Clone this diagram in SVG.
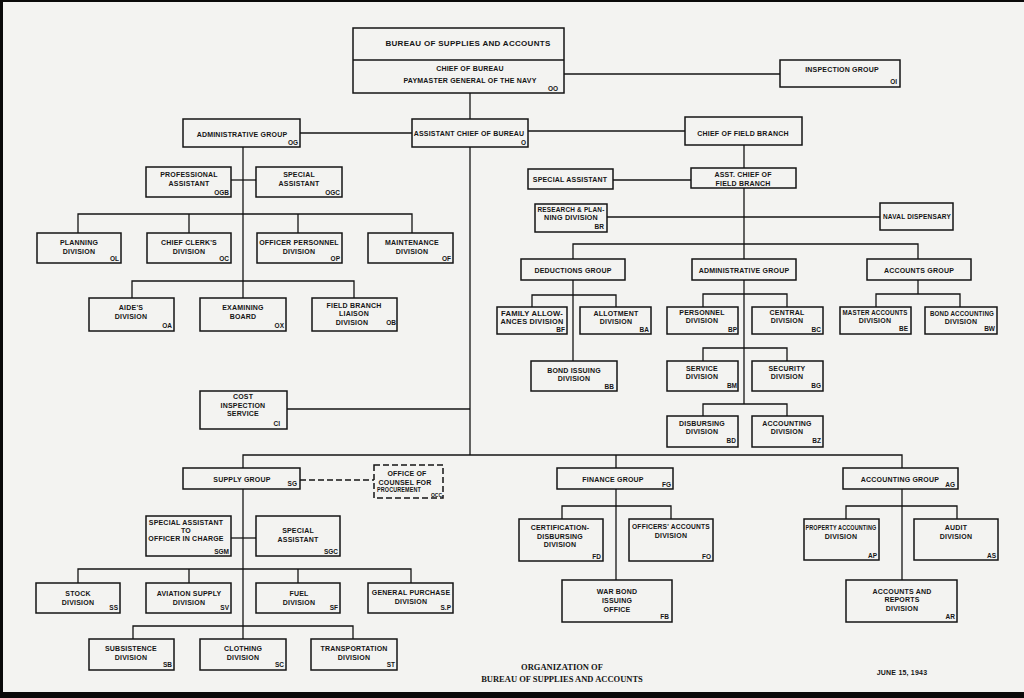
<svg xmlns="http://www.w3.org/2000/svg" width="1024" height="698" viewBox="0 0 1024 698">
<style>
.b{fill:none;stroke:#151515;stroke-width:1.5}
.l{fill:none;stroke:#151515;stroke-width:1.3}
.d{fill:none;stroke:#151515;stroke-width:1.5;stroke-dasharray:6 3}
text{font-family:"Liberation Sans",Arial,sans-serif;font-weight:bold;fill:#151515}
.t{font-size:7px;text-anchor:middle;letter-spacing:0.2px}
.c{font-size:6.5px;text-anchor:end}
.cs{font-size:5px;text-anchor:end}
.h{font-size:8px;text-anchor:middle;letter-spacing:0.3px}
.f{font-family:"Liberation Serif","Times New Roman",serif;font-size:8.5px;text-anchor:middle}
</style>
<rect x="0" y="0" width="1024" height="698" fill="#0a0a0a"/>
<rect x="3" y="2" width="1021" height="690" fill="#f3f3f1"/>

<g id="connectors">
<path class="l" d="M564 74H780"/>
<path class="l" d="M470 93V119"/>
<path class="l" d="M470 147V455"/>
<path class="l" d="M300 133H412"/>
<path class="l" d="M528 131H685"/>
<path class="l" d="M243 147V298"/>
<path class="l" d="M231 180H256"/>
<path class="l" d="M78 233V214H412V233M189 214V233M298 214V233"/>
<path class="l" d="M132 298V281H354V298"/>
<path class="l" d="M744 145V168M744 188V259"/>
<path class="l" d="M613 180H691"/>
<path class="l" d="M607 217H880"/>
<path class="l" d="M573 259V244H918V259"/>
<path class="l" d="M573 280V361"/>
<path class="l" d="M532 307V295H616V307"/>
<path class="l" d="M744 280V404"/>
<path class="l" d="M703 307V294H787V307"/>
<path class="l" d="M703 361V348H787V361"/>
<path class="l" d="M703 416V404H787V416"/>
<path class="l" d="M918 280V294"/>
<path class="l" d="M876 307V294H960V307"/>
<path class="l" d="M287 409H470"/>
<path class="l" d="M243 468V455H902V468M616 455V468"/>
<path class="d" d="M300 480H374"/>
<path class="l" d="M243 489V639"/>
<path class="l" d="M231 538H256"/>
<path class="l" d="M78 583V569H411V583M189 569V583M298 569V583"/>
<path class="l" d="M133 639V626H353V639"/>
<path class="l" d="M616 489V580"/>
<path class="l" d="M562 519V506H671V519"/>
<path class="l" d="M902 489V580"/>
<path class="l" d="M846 519V506H957V519"/>
</g>

<g id="bureau">
<rect class="b" x="353" y="28" width="211" height="65"/>
<path class="b" d="M353 60H564"/>
<text class="h" x="468" y="46">BUREAU OF SUPPLIES AND ACCOUNTS</text>
<text class="t" x="470" y="71">CHIEF OF BUREAU</text>
<text class="t" x="470" y="83">PAYMASTER GENERAL OF THE NAVY</text>
<text class="c" x="558" y="91">OO</text>
</g>
<g id="inspection">
<rect class="b" x="780" y="60" width="120" height="27"/>
<text class="t" x="842" y="72">INSPECTION GROUP</text>
<text class="c" x="897" y="84">OI</text>
</g>
<g id="asst-chief">
<rect class="b" x="412" y="119" width="116" height="28"/>
<text class="t" x="469" y="136">ASSISTANT CHIEF OF BUREAU</text>
<text class="c" x="526" y="145">O</text>
</g>
<g id="admin-group">
<rect class="b" x="183" y="119" width="117" height="28"/>
<text class="t" x="242" y="137">ADMINISTRATIVE GROUP</text>
<text class="c" x="298" y="145">OG</text>
</g>
<g id="chief-field">
<rect class="b" x="685" y="117" width="117" height="28"/>
<text class="t" x="743" y="136">CHIEF OF FIELD BRANCH</text>
</g>

<g id="ogb">
<rect class="b" x="146" y="167" width="85" height="30"/>
<text class="t"><tspan x="189" y="177">PROFESSIONAL</tspan><tspan x="189" y="186">ASSISTANT</tspan></text>
<text class="c" x="229" y="195">OGB</text>
</g>
<g id="ogc">
<rect class="b" x="256" y="167" width="86" height="30"/>
<text class="t"><tspan x="299" y="177">SPECIAL</tspan><tspan x="299" y="186">ASSISTANT</tspan></text>
<text class="c" x="340" y="195">OGC</text>
</g>
<g id="ol">
<rect class="b" x="37" y="233" width="84" height="30"/>
<text class="t"><tspan x="79" y="245">PLANNING</tspan><tspan x="79" y="254">DIVISION</tspan></text>
<text class="c" x="119" y="261">OL</text>
</g>
<g id="oc">
<rect class="b" x="147" y="233" width="84" height="30"/>
<text class="t"><tspan x="189" y="245">CHIEF CLERK'S</tspan><tspan x="189" y="254">DIVISION</tspan></text>
<text class="c" x="229" y="261">OC</text>
</g>
<g id="op">
<rect class="b" x="257" y="233" width="85" height="30"/>
<text class="t"><tspan x="299" y="245">OFFICER PERSONNEL</tspan><tspan x="299" y="254">DIVISION</tspan></text>
<text class="c" x="340" y="261">OP</text>
</g>
<g id="of">
<rect class="b" x="368" y="233" width="85" height="30"/>
<text class="t"><tspan x="412" y="245">MAINTENANCE</tspan><tspan x="412" y="254">DIVISION</tspan></text>
<text class="c" x="451" y="261">OF</text>
</g>
<g id="oa">
<rect class="b" x="89" y="298" width="85" height="33"/>
<text class="t"><tspan x="131" y="310">AIDE'S</tspan><tspan x="131" y="319">DIVISION</tspan></text>
<text class="c" x="172" y="328">OA</text>
</g>
<g id="ox">
<rect class="b" x="200" y="298" width="86" height="33"/>
<text class="t"><tspan x="243" y="310">EXAMINING</tspan><tspan x="243" y="319">BOARD</tspan></text>
<text class="c" x="284" y="328">OX</text>
</g>
<g id="ob">
<rect class="b" x="312" y="298" width="85" height="33"/>
<text class="t"><tspan x="354" y="308">FIELD BRANCH</tspan><tspan x="354" y="316">LIAISON</tspan><tspan x="352" y="325">DIVISION</tspan></text>
<text class="c" x="396" y="325">OB</text>
</g>

<g id="field-special">
<rect class="b" x="528" y="169" width="85" height="20"/>
<text class="t" x="570" y="182">SPECIAL ASSISTANT</text>
</g>
<g id="asst-field">
<rect class="b" x="691" y="168" width="105" height="20"/>
<text class="t"><tspan x="743" y="177">ASST. CHIEF OF</tspan><tspan x="743" y="186">FIELD BRANCH</tspan></text>
</g>
<g id="br">
<rect class="b" x="535" y="204" width="72" height="28"/>
<text class="t" x="571" y="212" textLength="67" lengthAdjust="spacingAndGlyphs">RESEARCH &amp; PLAN-</text>
<text class="t" x="571" y="220" textLength="54" lengthAdjust="spacingAndGlyphs">NING DIVISION</text>
<text class="c" x="604" y="229">BR</text>
</g>
<g id="dispensary">
<rect class="b" x="880" y="203" width="73" height="27"/>
<text class="t" x="917" y="219" textLength="68" lengthAdjust="spacingAndGlyphs">NAVAL DISPENSARY</text>
</g>
<g id="deductions">
<rect class="b" x="521" y="259" width="104" height="21"/>
<text class="t" x="573" y="273">DEDUCTIONS GROUP</text>
</g>
<g id="field-admin">
<rect class="b" x="692" y="259" width="104" height="21"/>
<text class="t" x="744" y="273">ADMINISTRATIVE GROUP</text>
</g>
<g id="accounts-group">
<rect class="b" x="867" y="259" width="104" height="21"/>
<text class="t" x="919" y="273">ACCOUNTS GROUP</text>
</g>
<g id="bf">
<rect class="b" x="497" y="307" width="70" height="27"/>
<text class="t" x="532" y="316" textLength="62" lengthAdjust="spacingAndGlyphs">FAMILY ALLOW-</text>
<text class="t" x="532" y="324" textLength="63" lengthAdjust="spacingAndGlyphs">ANCES DIVISION</text>
<text class="c" x="565" y="332">BF</text>
</g>
<g id="ba">
<rect class="b" x="580" y="307" width="71" height="27"/>
<text class="t"><tspan x="616" y="316">ALLOTMENT</tspan><tspan x="616" y="324">DIVISION</tspan></text>
<text class="c" x="649" y="332">BA</text>
</g>
<g id="bb">
<rect class="b" x="531" y="361" width="86" height="30"/>
<text class="t"><tspan x="574" y="373">BOND ISSUING</tspan><tspan x="574" y="381">DIVISION</tspan></text>
<text class="c" x="614" y="389">BB</text>
</g>
<g id="bp">
<rect class="b" x="667" y="307" width="71" height="27"/>
<text class="t"><tspan x="702" y="315">PERSONNEL</tspan><tspan x="702" y="323">DIVISION</tspan></text>
<text class="c" x="737" y="332">BP</text>
</g>
<g id="bc">
<rect class="b" x="752" y="307" width="71" height="27"/>
<text class="t"><tspan x="787" y="315">CENTRAL</tspan><tspan x="787" y="323">DIVISION</tspan></text>
<text class="c" x="821" y="332">BC</text>
</g>
<g id="bm">
<rect class="b" x="667" y="361" width="71" height="30"/>
<text class="t"><tspan x="702" y="371">SERVICE</tspan><tspan x="702" y="379">DIVISION</tspan></text>
<text class="c" x="737" y="388">BM</text>
</g>
<g id="bg">
<rect class="b" x="752" y="361" width="71" height="30"/>
<text class="t"><tspan x="787" y="371">SECURITY</tspan><tspan x="787" y="379">DIVISION</tspan></text>
<text class="c" x="821" y="388">BG</text>
</g>
<g id="bd">
<rect class="b" x="667" y="416" width="71" height="31"/>
<text class="t"><tspan x="702" y="426">DISBURSING</tspan><tspan x="702" y="434">DIVISION</tspan></text>
<text class="c" x="736" y="443">BD</text>
</g>
<g id="bz">
<rect class="b" x="752" y="416" width="71" height="31"/>
<text class="t"><tspan x="787" y="426">ACCOUNTING</tspan><tspan x="787" y="434">DIVISION</tspan></text>
<text class="c" x="821" y="443">BZ</text>
</g>
<g id="be">
<rect class="b" x="840" y="307" width="71" height="27"/>
<text class="t" x="875" y="315" textLength="65" lengthAdjust="spacingAndGlyphs">MASTER ACCOUNTS</text>
<text class="t" x="875" y="323">DIVISION</text>
<text class="c" x="908" y="331">BE</text>
</g>
<g id="bw">
<rect class="b" x="925" y="307" width="72" height="27"/>
<text class="t" x="962" y="316" textLength="64" lengthAdjust="spacingAndGlyphs">BOND ACCOUNTING</text>
<text class="t" x="961" y="324">DIVISION</text>
<text class="c" x="995" y="331">BW</text>
</g>

<g id="ci">
<rect class="b" x="200" y="391" width="87" height="38"/>
<text class="t"><tspan x="243" y="399">COST</tspan><tspan x="243" y="408">INSPECTION</tspan><tspan x="243" y="416">SERVICE</tspan></text>
<text class="c" x="280" y="426">CI</text>
</g>
<g id="sg">
<rect class="b" x="183" y="468" width="117" height="21"/>
<text class="t" x="242" y="482">SUPPLY GROUP</text>
<text class="c" x="297" y="486">SG</text>
</g>
<g id="occ">
<rect class="d" x="374" y="465" width="69" height="33"/>
<text class="t" x="407" y="476">OFFICE OF</text>
<text class="t" x="405" y="485">COUNSEL FOR</text>
<text class="t" x="399" y="492" textLength="44" lengthAdjust="spacingAndGlyphs">PROCUREMENT</text>
<text class="cs" x="442" y="497">OCC</text>
</g>
<g id="sgm">
<rect class="b" x="146" y="516" width="85" height="40"/>
<text class="t"><tspan x="186" y="525">SPECIAL ASSISTANT</tspan><tspan x="186" y="533">TO</tspan><tspan x="186" y="541">OFFICER IN CHARGE</tspan></text>
<text class="c" x="229" y="554">SGM</text>
</g>
<g id="sgc">
<rect class="b" x="256" y="516" width="84" height="40"/>
<text class="t"><tspan x="298" y="533">SPECIAL</tspan><tspan x="298" y="542">ASSISTANT</tspan></text>
<text class="c" x="338" y="554">SGC</text>
</g>
<g id="ss">
<rect class="b" x="36" y="583" width="84" height="30"/>
<text class="t"><tspan x="78" y="596">STOCK</tspan><tspan x="78" y="605">DIVISION</tspan></text>
<text class="c" x="118" y="610">SS</text>
</g>
<g id="sv">
<rect class="b" x="146" y="583" width="85" height="30"/>
<text class="t"><tspan x="189" y="596">AVIATION SUPPLY</tspan><tspan x="189" y="605">DIVISION</tspan></text>
<text class="c" x="229" y="610">SV</text>
</g>
<g id="sf">
<rect class="b" x="256" y="583" width="84" height="30"/>
<text class="t"><tspan x="299" y="596">FUEL</tspan><tspan x="299" y="605">DIVISION</tspan></text>
<text class="c" x="338" y="610">SF</text>
</g>
<g id="sp">
<rect class="b" x="368" y="583" width="85" height="30"/>
<text class="t"><tspan x="411" y="595">GENERAL PURCHASE</tspan><tspan x="411" y="604">DIVISION</tspan></text>
<text class="c" x="451" y="610">S.P</text>
</g>
<g id="sb">
<rect class="b" x="89" y="639" width="85" height="31"/>
<text class="t"><tspan x="131" y="651">SUBSISTENCE</tspan><tspan x="131" y="660">DIVISION</tspan></text>
<text class="c" x="172" y="667">SB</text>
</g>
<g id="sc">
<rect class="b" x="200" y="639" width="86" height="31"/>
<text class="t"><tspan x="243" y="651">CLOTHING</tspan><tspan x="243" y="660">DIVISION</tspan></text>
<text class="c" x="284" y="667">SC</text>
</g>
<g id="st">
<rect class="b" x="311" y="639" width="86" height="31"/>
<text class="t"><tspan x="354" y="651">TRANSPORTATION</tspan><tspan x="354" y="660">DIVISION</tspan></text>
<text class="c" x="395" y="667">ST</text>
</g>

<g id="fg">
<rect class="b" x="557" y="468" width="116" height="21"/>
<text class="t" x="613" y="482">FINANCE GROUP</text>
<text class="c" x="671" y="487">FG</text>
</g>
<g id="fd">
<rect class="b" x="519" y="519" width="84" height="42"/>
<text class="t"><tspan x="560" y="530">CERTIFICATION-</tspan><tspan x="560" y="539">DISBURSING</tspan><tspan x="560" y="547">DIVISION</tspan></text>
<text class="c" x="601" y="559">FD</text>
</g>
<g id="fo">
<rect class="b" x="629" y="519" width="84" height="42"/>
<text class="t" x="671" y="529" textLength="78" lengthAdjust="spacingAndGlyphs">OFFICERS' ACCOUNTS</text>
<text class="t" x="671" y="538">DIVISION</text>
<text class="c" x="711" y="559">FO</text>
</g>
<g id="fb">
<rect class="b" x="562" y="580" width="110" height="42"/>
<text class="t"><tspan x="617" y="594">WAR BOND</tspan><tspan x="617" y="603">ISSUING</tspan><tspan x="617" y="612">OFFICE</tspan></text>
<text class="c" x="669" y="619">FB</text>
</g>
<g id="ag">
<rect class="b" x="843" y="468" width="115" height="21"/>
<text class="t" x="900" y="482">ACCOUNTING GROUP</text>
<text class="c" x="955" y="487">AG</text>
</g>
<g id="ap">
<rect class="b" x="804" y="519" width="75" height="41"/>
<text class="t" x="841" y="530" textLength="71" lengthAdjust="spacingAndGlyphs">PROPERTY ACCOUNTING</text>
<text class="t" x="841" y="539">DIVISION</text>
<text class="c" x="877" y="558">AP</text>
</g>
<g id="as">
<rect class="b" x="914" y="519" width="84" height="41"/>
<text class="t"><tspan x="956" y="530">AUDIT</tspan><tspan x="956" y="539">DIVISION</tspan></text>
<text class="c" x="996" y="558">AS</text>
</g>
<g id="ar">
<rect class="b" x="846" y="580" width="111" height="42"/>
<text class="t"><tspan x="902" y="594">ACCOUNTS AND</tspan><tspan x="902" y="602">REPORTS</tspan><tspan x="902" y="611">DIVISION</tspan></text>
<text class="c" x="955" y="619">AR</text>
</g>

<g id="footer">
<text class="f"><tspan x="562" y="670">ORGANIZATION OF</tspan><tspan x="562" y="682">BUREAU OF SUPPLIES AND ACCOUNTS</tspan></text>
<text class="t" x="902" y="675">JUNE 15, 1943</text>
</g>
</svg>
